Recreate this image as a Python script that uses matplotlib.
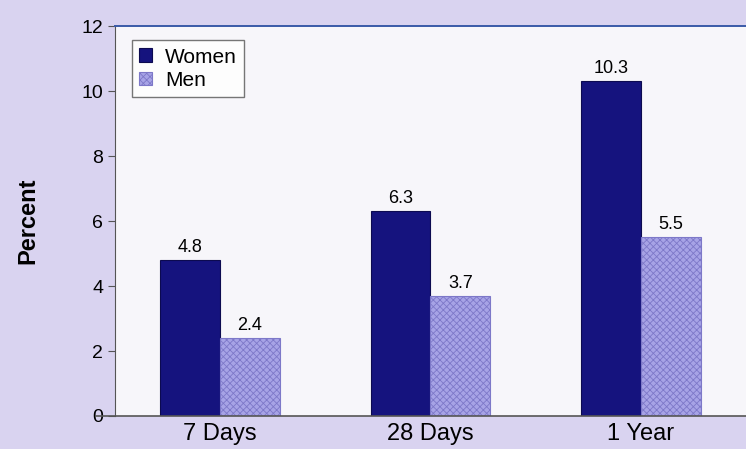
import numpy as np
import matplotlib.pyplot as plt
import matplotlib as mpl

periods = ["7 Days", "28 Days", "1 Year"]
women = [4.8, 6.3, 10.3]
men = [2.4, 3.7, 5.5]

mpl.rcParams["font.family"] = "Liberation Sans"
mpl.rcParams["hatch.linewidth"] = 0.6

bg = "#d9d3f0"
navy = "#15137e"
lav = "#a7a3e6"

fig = plt.figure(figsize=(7.46, 4.49), dpi=100, facecolor=bg)
ax = fig.add_axes([0.154, 0.0735, 0.846, 0.8685])
ax.set_facecolor("#f7f6fa")

x = np.arange(len(periods))
w = 0.284
b1 = ax.bar(x - w / 2, women, w, color=navy, edgecolor="#0c0a50", linewidth=0.8, label="Women")
b2 = ax.bar(x + w / 2, men, w, color=lav, edgecolor="#7d78c8", hatch="xxxxx",
            linewidth=0.8, label="Men")

for bars, vals in [(b1, women), (b2, men)]:
    for r, v in zip(bars, vals):
        ax.annotate(f"{v}", (r.get_x() + r.get_width() / 2, v), xytext=(0, 3),
                    textcoords="offset points", ha="center", va="bottom", fontsize=13)

ax.set_xlim(-0.5, 2.5)
ax.set_ylim(0, 12)
ax.set_yticks(range(0, 13, 2))
ax.set_xticks(x)
ax.set_xticklabels(periods)
ax.tick_params(axis="y", labelsize=14, length=5, color="#555555")
ax.tick_params(axis="x", labelsize=17, length=0, pad=5)
ax.set_ylabel("Percent", fontsize=17, fontweight="bold", labelpad=30)

for s in ["right", "bottom"]:
    ax.spines[s].set_visible(False)
ax.spines["left"].set_color("#555555")
ax.spines["top"].set_color("#3a5aa8")
ax.spines["top"].set_linewidth(1.4)
ax.axhline(0, color="#555555", lw=1.2, clip_on=False, xmin=-0.03)

leg = ax.legend(loc="upper left", bbox_to_anchor=(0.01, 0.99), fontsize=15, frameon=True,
                fancybox=False, edgecolor="#555555", handlelength=0.65, handleheight=0.65,
                handletextpad=0.6, borderpad=0.35, labelspacing=0.2)
leg.get_frame().set_linewidth(1.0)

fig.savefig("out.png", dpi=100, facecolor=bg)
